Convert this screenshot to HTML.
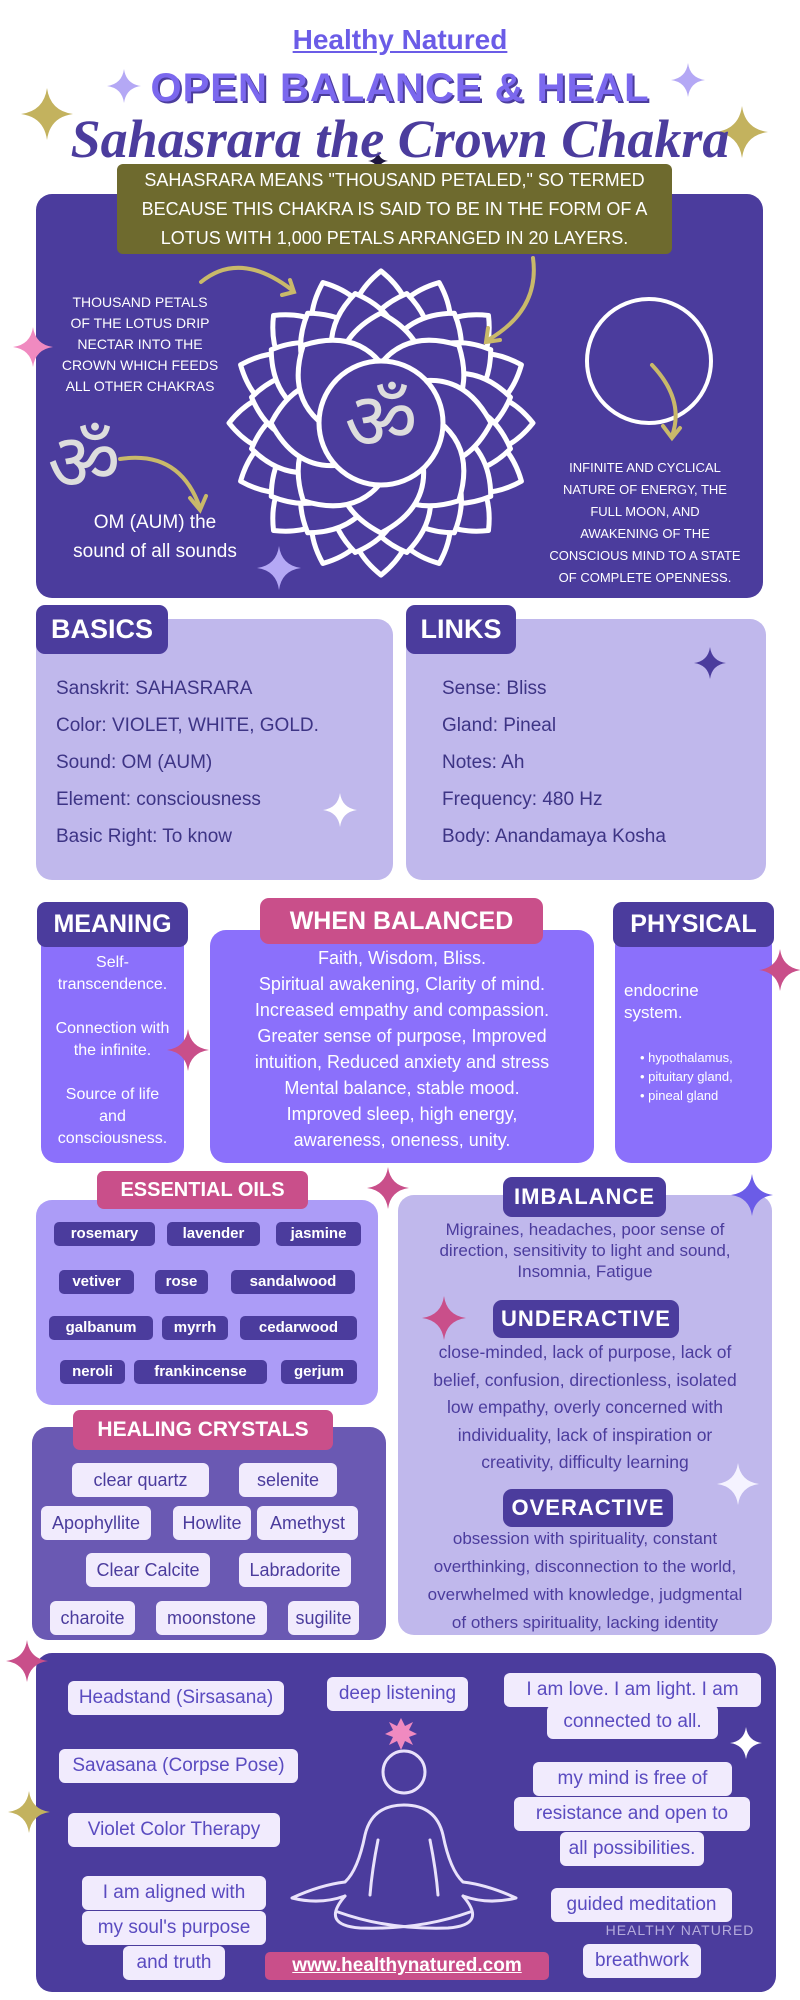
<!DOCTYPE html>
<html><head><meta charset="utf-8">
<style>
*{margin:0;padding:0;box-sizing:border-box}
body{width:800px;height:2000px;background:#fff;position:relative;overflow:hidden;font-family:"Liberation Sans",sans-serif;white-space:nowrap}
.a{position:absolute}
.c{text-align:center}
.box{position:absolute;border-radius:16px}
.tab{position:absolute;border-radius:9px;color:#fff;font-family:"Liberation Sans",sans-serif;font-weight:bold;text-align:center}
.dk{background:#4b3c9d}
.pk{background:#c94f8a}
.tag{position:absolute;background:#4b3c9d;color:#fff;font-weight:bold;font-size:15px;border-radius:5px;text-align:center;height:24px;line-height:24px}
.cr{position:absolute;background:#f1ebfd;color:#4b3c9d;font-size:18px;border-radius:6px;text-align:center;height:34px;line-height:34px}
.bt{position:absolute;background:#f1ebfd;color:#5a4bc0;font-size:19px;border-radius:6px;text-align:center;line-height:34px;height:34px}
.wt{color:#fff}
</style></head><body>

<svg class="a" style="left:0;top:0" width="800" height="2000">
<defs><path id="st" d="M0,-1 Q0.12,-0.12 1,0 Q0.12,0.12 0,1 Q-0.12,0.12 -1,0 Q-0.12,-0.12 0,-1Z"/></defs>
<use href="#st" transform="translate(47,114) scale(26)" fill="#c3b25e"/>
<use href="#st" transform="translate(742,132) scale(26)" fill="#c3b25e"/>
<use href="#st" transform="translate(124,86) scale(17)" fill="#b4a8f5"/>
<use href="#st" transform="translate(688,80) scale(17)" fill="#b4a8f5"/>
<use href="#st" transform="translate(378,161) scale(10)" fill="#1e1740"/>
</svg>

<div class="a c" style="left:0;top:24px;width:800px;font-weight:bold;font-size:28px;color:#6b5ce7;text-decoration:underline">Healthy Natured</div>
<div class="a c" style="left:0;top:66px;width:800px;font-weight:900;font-size:40px;color:#7b68ee;letter-spacing:1px;text-shadow:2px 2px 0 #4b3c9d">OPEN BALANCE &amp; HEAL</div>
<div class="a c" style="left:0;top:108px;width:800px;font-family:'Liberation Serif',serif;font-style:italic;font-weight:bold;font-size:54px;color:#4b3c9d">Sahasrara the Crown Chakra</div>

<div class="box" style="left:36px;top:194px;width:727px;height:404px;background:#4b3c9d"></div>
<div class="a c" style="left:117px;top:164px;width:555px;height:90px;background:#6e6a2e;border-radius:6px;color:#fff;font-size:18px;line-height:29px;padding-top:2px">SAHASRARA MEANS "THOUSAND PETALED," SO TERMED<br>BECAUSE THIS CHAKRA IS SAID TO BE IN THE FORM OF A<br>LOTUS WITH 1,000 PETALS ARRANGED IN 20 LAYERS.</div>

<svg class="a" style="left:0;top:0" width="800" height="620">
<defs>
<path id="p1" d="M-30,-88 Q-34,-125 0,-152 Q34,-125 30,-88" fill="#4b3c9d" stroke="#fff" stroke-width="5" stroke-linejoin="round"/>
<path id="p2" d="M-34,-62 Q-40,-105 0,-132 Q40,-105 34,-62" fill="#4b3c9d" stroke="#fff" stroke-width="5" stroke-linejoin="round"/>
<path id="p3" d="M-42,-40 Q-48,-85 0,-110 Q48,-85 42,-40" fill="#4b3c9d" stroke="#fff" stroke-width="5" stroke-linejoin="round"/>
</defs>
<g transform="translate(381,423)">
<use href="#p1" transform="rotate(0)"/><use href="#p1" transform="rotate(22.5)"/><use href="#p1" transform="rotate(45)"/><use href="#p1" transform="rotate(67.5)"/><use href="#p1" transform="rotate(90)"/><use href="#p1" transform="rotate(112.5)"/><use href="#p1" transform="rotate(135)"/><use href="#p1" transform="rotate(157.5)"/><use href="#p1" transform="rotate(180)"/><use href="#p1" transform="rotate(202.5)"/><use href="#p1" transform="rotate(225)"/><use href="#p1" transform="rotate(247.5)"/><use href="#p1" transform="rotate(270)"/><use href="#p1" transform="rotate(292.5)"/><use href="#p1" transform="rotate(315)"/><use href="#p1" transform="rotate(337.5)"/>
<use href="#p2" transform="rotate(11.25)"/><use href="#p2" transform="rotate(33.75)"/><use href="#p2" transform="rotate(56.25)"/><use href="#p2" transform="rotate(78.75)"/><use href="#p2" transform="rotate(101.25)"/><use href="#p2" transform="rotate(123.75)"/><use href="#p2" transform="rotate(146.25)"/><use href="#p2" transform="rotate(168.75)"/><use href="#p2" transform="rotate(191.25)"/><use href="#p2" transform="rotate(213.75)"/><use href="#p2" transform="rotate(236.25)"/><use href="#p2" transform="rotate(258.75)"/><use href="#p2" transform="rotate(281.25)"/><use href="#p2" transform="rotate(303.75)"/><use href="#p2" transform="rotate(326.25)"/><use href="#p2" transform="rotate(348.75)"/>
<use href="#p3" transform="rotate(0)"/><use href="#p3" transform="rotate(45)"/><use href="#p3" transform="rotate(90)"/><use href="#p3" transform="rotate(135)"/><use href="#p3" transform="rotate(180)"/><use href="#p3" transform="rotate(225)"/><use href="#p3" transform="rotate(270)"/><use href="#p3" transform="rotate(315)"/>
<circle r="62" fill="#4b3c9d" stroke="#fff" stroke-width="5"/>
<text y="26" text-anchor="middle" font-family="DejaVu Sans,sans-serif" font-size="80" fill="#ddd">ॐ</text>
</g>
<circle cx="649" cy="361" r="62" fill="none" stroke="#fff" stroke-width="4"/>
<text x="84" y="490" text-anchor="middle" font-family="DejaVu Sans,sans-serif" font-size="80" fill="#ddd">ॐ</text>
<g fill="none" stroke="#c9b96a" stroke-width="4" stroke-linecap="round">
<path d="M201,282 Q240,250 292,290"/><path d="M282,295 L294,292 L290,280"/>
<path d="M533,258 Q540,310 488,340"/><path d="M488,328 L486,342 L500,340"/>
<path d="M652,365 Q685,400 672,436"/><path d="M663,426 L672,438 L680,428"/>
<path d="M120,459 Q180,450 200,508"/><path d="M190,498 L200,510 L206,496"/>
</g>
<use href="#st" transform="translate(33,347) scale(20)" fill="#f08ac0"/>
<use href="#st" transform="translate(279,568) scale(22)" fill="#b4a8f5"/>
</svg>

<div class="a c wt" style="left:50px;top:292px;width:180px;font-size:14px;line-height:21px">THOUSAND PETALS<br>OF THE LOTUS DRIP<br>NECTAR INTO THE<br>CROWN WHICH FEEDS<br>ALL OTHER CHAKRAS</div>
<div class="a c wt" style="left:50px;top:508px;width:210px;font-size:19px;line-height:29px">OM (AUM) the<br>sound of all sounds</div>
<div class="a c wt" style="left:535px;top:457px;width:220px;font-size:13px;line-height:22px">INFINITE AND CYCLICAL<br>NATURE OF ENERGY, THE<br>FULL MOON, AND<br>AWAKENING OF THE<br>CONSCIOUS MIND TO A STATE<br>OF COMPLETE OPENNESS.</div>

<div class="box" style="left:36px;top:619px;width:357px;height:261px;background:#c0b8ec"></div>
<div class="tab dk" style="left:36px;top:605px;width:132px;height:49px;line-height:49px;font-size:27px">BASICS</div>
<div class="a" style="left:56px;top:670px;font-size:19px;line-height:37px;color:#3d3485">Sanskrit: SAHASRARA<br>Color: VIOLET, WHITE, GOLD.<br>Sound: OM (AUM)<br>Element: consciousness<br>Basic Right: To know</div>
<div class="box" style="left:406px;top:619px;width:360px;height:261px;background:#c0b8ec"></div>
<div class="tab dk" style="left:406px;top:605px;width:110px;height:49px;line-height:49px;font-size:27px">LINKS</div>
<div class="a" style="left:442px;top:670px;font-size:19px;line-height:37px;color:#3d3485">Sense: Bliss<br>Gland: Pineal<br>Notes: Ah<br>Frequency: 480 Hz<br>Body: Anandamaya Kosha</div>

<div class="box" style="left:41px;top:930px;width:143px;height:233px;background:#8b70fb"></div>
<div class="tab dk" style="left:37px;top:902px;width:151px;height:45px;line-height:45px;font-size:25px">MEANING</div>
<div class="a c wt" style="left:41px;top:952px;width:143px;font-size:16px;line-height:22px">Self-<br>transcendence.<br><br>Connection with<br>the infinite.<br><br>Source of life<br>and<br>consciousness.</div>

<div class="box" style="left:210px;top:930px;width:384px;height:233px;background:#8b70fb"></div>
<div class="tab pk" style="left:260px;top:898px;width:283px;height:46px;line-height:46px;font-size:25px">WHEN BALANCED</div>
<div class="a c wt" style="left:210px;top:945px;width:384px;font-size:18px;line-height:26px">Faith, Wisdom, Bliss.<br>Spiritual awakening, Clarity of mind.<br>Increased empathy and compassion.<br>Greater sense of purpose, Improved<br>intuition, Reduced anxiety and stress<br>Mental balance, stable mood.<br>Improved sleep, high energy,<br>awareness, oneness, unity.</div>

<div class="box" style="left:615px;top:930px;width:157px;height:233px;background:#8b70fb"></div>
<div class="tab dk" style="left:613px;top:902px;width:161px;height:45px;line-height:45px;font-size:25px">PHYSICAL</div>
<div class="a wt" style="left:624px;top:980px;font-size:17px;line-height:22px">endocrine<br>system.</div>
<div class="a wt" style="left:640px;top:1048px;font-size:13px;line-height:19px">• hypothalamus,<br>• pituitary gland,<br>• pineal gland</div>

<div class="box" style="left:36px;top:1200px;width:342px;height:205px;background:#ac9cf7"></div>
<div class="tab pk" style="left:97px;top:1171px;width:211px;height:38px;line-height:38px;font-size:20px;border-radius:7px">ESSENTIAL OILS</div>
<div class="tag" style="left:54px;top:1222px;width:101px">rosemary</div>
<div class="tag" style="left:167px;top:1222px;width:93px">lavender</div>
<div class="tag" style="left:276px;top:1222px;width:85px">jasmine</div>
<div class="tag" style="left:59px;top:1270px;width:75px">vetiver</div>
<div class="tag" style="left:155px;top:1270px;width:53px">rose</div>
<div class="tag" style="left:231px;top:1270px;width:124px">sandalwood</div>
<div class="tag" style="left:49px;top:1316px;width:104px">galbanum</div>
<div class="tag" style="left:162px;top:1316px;width:66px">myrrh</div>
<div class="tag" style="left:240px;top:1316px;width:117px">cedarwood</div>
<div class="tag" style="left:60px;top:1360px;width:65px">neroli</div>
<div class="tag" style="left:134px;top:1360px;width:133px">frankincense</div>
<div class="tag" style="left:281px;top:1360px;width:76px">gerjum</div>

<div class="box" style="left:32px;top:1427px;width:354px;height:213px;background:#6a59b3"></div>
<div class="tab pk" style="left:73px;top:1410px;width:260px;height:40px;line-height:40px;font-size:21px;border-radius:7px">HEALING CRYSTALS</div>
<div class="cr" style="left:72px;top:1463px;width:137px">clear quartz</div>
<div class="cr" style="left:239px;top:1463px;width:98px">selenite</div>
<div class="cr" style="left:41px;top:1506px;width:110px">Apophyllite</div>
<div class="cr" style="left:173px;top:1506px;width:78px">Howlite</div>
<div class="cr" style="left:257px;top:1506px;width:101px">Amethyst</div>
<div class="cr" style="left:86px;top:1553px;width:124px">Clear Calcite</div>
<div class="cr" style="left:239px;top:1553px;width:112px">Labradorite</div>
<div class="cr" style="left:50px;top:1601px;width:85px">charoite</div>
<div class="cr" style="left:156px;top:1601px;width:111px">moonstone</div>
<div class="cr" style="left:288px;top:1601px;width:71px">sugilite</div>

<div class="box" style="left:398px;top:1195px;width:374px;height:440px;background:#c0b8ec"></div>
<div class="tab dk" style="left:503px;top:1177px;width:163px;height:40px;line-height:40px;font-size:22px;letter-spacing:1px">IMBALANCE</div>
<div class="a c" style="left:398px;top:1219px;width:374px;font-size:17px;line-height:21px;color:#4b3c9d">Migraines, headaches, poor sense of<br>direction, sensitivity to light and sound,<br>Insomnia, Fatigue</div>
<div class="tab dk" style="left:493px;top:1300px;width:186px;height:38px;line-height:38px;font-size:22px;letter-spacing:1px">UNDERACTIVE</div>
<div class="a c" style="left:398px;top:1339px;width:374px;font-size:17.5px;line-height:27.5px;color:#4b3c9d">close-minded, lack of purpose, lack of<br>belief, confusion, directionless, isolated<br>low empathy, overly concerned with<br>individuality, lack of inspiration or<br>creativity, difficulty learning</div>
<div class="tab dk" style="left:503px;top:1489px;width:170px;height:38px;line-height:38px;font-size:22px;letter-spacing:1px">OVERACTIVE</div>
<div class="a c" style="left:398px;top:1525px;width:374px;font-size:17px;line-height:28px;color:#4b3c9d">obsession with spirituality, constant<br>overthinking, disconnection to the world,<br>overwhelmed with knowledge, judgmental<br>of others spirituality, lacking identity</div>

<div class="box" style="left:36px;top:1653px;width:740px;height:339px;background:#4b3c9d"></div>
<div class="bt" style="left:68px;top:1681px;width:216px">Headstand (Sirsasana)</div>
<div class="bt" style="left:327px;top:1677px;width:141px">deep listening</div>
<div class="bt" style="left:504px;top:1673px;width:257px">I am love. I am light. I am</div>
<div class="bt" style="left:547px;top:1705px;width:171px">connected to all.</div>
<div class="bt" style="left:59px;top:1749px;width:239px">Savasana (Corpse Pose)</div>
<div class="bt" style="left:68px;top:1813px;width:212px">Violet Color Therapy</div>
<div class="bt" style="left:82px;top:1876px;width:184px">I am aligned with</div>
<div class="bt" style="left:82px;top:1911px;width:184px">my soul's purpose</div>
<div class="bt" style="left:123px;top:1946px;width:102px">and truth</div>
<div class="bt" style="left:533px;top:1762px;width:199px">my mind is free of</div>
<div class="bt" style="left:514px;top:1797px;width:236px">resistance and open to</div>
<div class="bt" style="left:560px;top:1832px;width:144px">all possibilities.</div>
<div class="bt" style="left:551px;top:1888px;width:181px">guided meditation</div>
<div class="bt" style="left:583px;top:1944px;width:118px">breathwork</div>
<div class="a c" style="left:265px;top:1952px;width:284px;height:28px;line-height:28px;background:#c94f8a;border-radius:5px;color:#fff;font-weight:bold;font-size:19px;text-decoration:underline">www.healthynatured.com</div>
<div class="a c" style="left:600px;top:1922px;width:160px;color:#c8c0e8;font-size:14px;letter-spacing:1px;opacity:.85">HEALTHY NATURED</div>

<svg class="a" style="left:0;top:0" width="800" height="2000">
<defs><path id="s2" d="M0,-1 Q0.12,-0.12 1,0 Q0.12,0.12 0,1 Q-0.12,0.12 -1,0 Q-0.12,-0.12 0,-1Z"/></defs>
<use href="#s2" transform="translate(710,663) scale(16)" fill="#4b3c9d"/>
<use href="#s2" transform="translate(340,810) scale(17)" fill="#fff"/>
<use href="#s2" transform="translate(188,1050) scale(21)" fill="#c94f8a"/>
<use href="#s2" transform="translate(780,970) scale(21)" fill="#c94f8a"/>
<use href="#s2" transform="translate(388,1188) scale(21)" fill="#c94f8a"/>
<use href="#s2" transform="translate(752,1195) scale(21)" fill="#6b5ce7"/>
<use href="#s2" transform="translate(444,1318) scale(22)" fill="#c94f8a"/>
<use href="#s2" transform="translate(738,1484) scale(21)" fill="#f5f3ff"/>
<use href="#s2" transform="translate(27,1661) scale(21)" fill="#c94f8a"/>
<use href="#s2" transform="translate(29,1812) scale(21)" fill="#c3b25e"/>
<use href="#s2" transform="translate(746,1743) scale(16)" fill="#fff"/>
<polygon points="401,1718 405,1726 413,1722 409,1730 417,1734 409,1737 413,1745 405,1741 401,1750 397,1741 389,1745 393,1737 385,1734 393,1730 389,1722 397,1726" fill="#f08ac0"/>
<g fill="none" stroke="#e9e2fb" stroke-width="3" stroke-linejoin="round" stroke-linecap="round">
<circle cx="404" cy="1772" r="21"/>
<path d="M404,1805 Q372,1805 365,1835 Q358,1870 345,1882 Q320,1885 292,1898 Q320,1905 345,1896"/>
<path d="M404,1805 Q436,1805 443,1835 Q450,1870 463,1882 Q488,1885 516,1898 Q488,1905 463,1896"/>
<path d="M378,1840 Q372,1870 370,1895"/><path d="M430,1840 Q436,1870 438,1895"/>
<path d="M345,1896 Q320,1925 360,1928 Q420,1930 470,1912"/>
<path d="M463,1896 Q488,1925 448,1928 Q388,1930 338,1912"/>
</g>
</svg>
</body></html>
